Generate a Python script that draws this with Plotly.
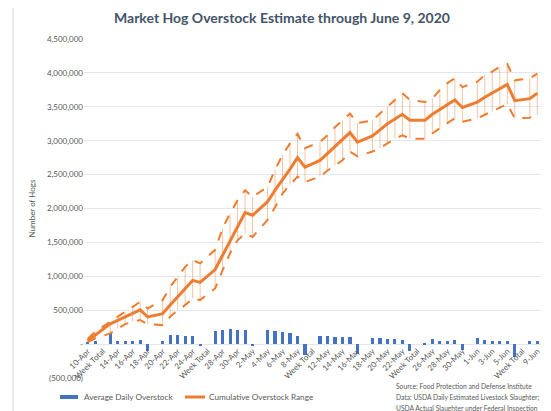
import plotly.graph_objects as go

# ---- data ----
categories = [
    "10-Apr", "11-Apr", "Week Total", "13-Apr", "14-Apr", "15-Apr", "16-Apr", "17-Apr", "18-Apr",
    "Week Total", "20-Apr", "21-Apr", "22-Apr", "23-Apr", "24-Apr", "25-Apr",
    "Week Total", "27-Apr", "28-Apr", "29-Apr", "30-Apr", "1-May", "2-May",
    "Week Total", "4-May", "5-May", "6-May", "7-May", "8-May", "9-May",
    "Week Total", "11-May", "12-May", "13-May", "14-May", "15-May", "16-May",
    "Week Total", "18-May", "19-May", "20-May", "21-May", "22-May", "23-May",
    "Week Total", "25-May", "26-May", "27-May", "28-May", "29-May", "30-May",
    "Week Total", "1-Jun", "2-Jun", "3-Jun", "4-Jun", "5-Jun", "6-Jun",
    "Week Total", "8-Jun", "9-Jun",
]

daily_overstock = [
    30000, 50000, None, 157000, 50000, 40000, 40000, 60000, -108000,
    None, 50000, 133000, 133000, 113000, 113000, -25000,
    None, 187000, 206000, 221000, 206000, 206000, -35000,
    None, 206000, 187000, 172000, 157000, 123000, -162000,
    None, 113000, 113000, 98000, 98000, 98000, -147000,
    None, 84000, 84000, 74000, 74000, 64000, -98000,
    None, 15000, 74000, 50000, 50000, 64000, -88000,
    None, 84000, 64000, 50000, 40000, 40000, -197000,
    None, 40000, 40000,
]

cumulative = [
    50000, 130000, None, 300000, 350000, 400000, 450000, 505000, 400000,
    None, 450000, 575000, 700000, 820000, 940000, 910000,
    None, 1100000, 1310000, 1520000, 1730000, 1940000, 1900000,
    None, 2100000, 2270000, 2420000, 2580000, 2750000, 2610000,
    None, 2710000, 2810000, 2910000, 3010000, 3120000, 2980000,
    None, 3070000, 3160000, 3250000, 3320000, 3390000, 3300000,
    None, 3300000, 3390000, 3460000, 3530000, 3600000, 3490000,
    None, 3570000, 3640000, 3700000, 3760000, 3830000, 3590000,
    None, 3620000, 3700000,
]

range_high = [
    80000, 182000, None, 330000, 400000, 477000, 550000, 624000, 526000,
    None, 650000, 845000, 990000, 1140000, 1240000, 1190000,
    None, 1390000, 1710000, 1930000, 2120000, 2270000, 2170000,
    None, 2320000, 2570000, 2790000, 2960000, 3100000, 2890000,
    None, 2980000, 3080000, 3200000, 3300000, 3400000, 3260000,
    None, 3300000, 3400000, 3500000, 3600000, 3700000, 3600000,
    None, 3570000, 3620000, 3750000, 3850000, 3920000, 3790000,
    None, 3870000, 3970000, 4020000, 4090000, 4130000, 3890000,
    None, 3920000, 3990000,
]

range_low = [
    30000, 84000, None, 157000, 231000, 295000, 329000, 354000, 295000,
    None, 280000, 403000, 500000, 575000, 674000, 649000,
    None, 821000, 1090000, 1340000, 1530000, 1630000, 1580000,
    None, 1830000, 2020000, 2220000, 2350000, 2470000, 2390000,
    None, 2470000, 2560000, 2640000, 2710000, 2840000, 2770000,
    None, 2840000, 2890000, 2960000, 3030000, 3080000, 3030000,
    None, 3030000, 3110000, 3180000, 3260000, 3330000, 3280000,
    None, 3330000, 3380000, 3430000, 3480000, 3540000, 3330000,
    None, 3340000, 3380000,
]

y_tick_vals = [-500000, 0, 500000, 1000000, 1500000, 2000000, 2500000, 3000000, 3500000, 4000000, 4500000]
y_tick_text = ["(500,000)", "-", "500,000", "1,000,000", "1,500,000", "2,000,000", "2,500,000",
               "3,000,000", "3,500,000", "4,000,000", "4,500,000"]

title_text = "Market Hog Overstock Estimate through June 9, 2020"
legend_labels = ["Average Daily Overstock", "Cumulative Overstock Range"]
source_lines = [
    "Source: Food Protection and Defense Institute",
    "Data: USDA Daily Estimated Livestock Slaughter;",
    "USDA Actual Slaughter under Federal Inspection",
]

# ---- figure ----
idx = list(range(len(categories)))
ORANGE = "#ED7D31"
BLUE = "#4472C4"
FONT = "Lato"
GRAY = "#595959"

# page body has an 8px margin; lay out in screen pixels and compensate
OFF = 8
W, H = 551 - OFF, 411 - OFF
PL, PR, PT, PB = 84, 541, 39, 378          # plot area in screen pixels
L, R, T, B = PL - OFF, W - (PR - OFF), PT - OFF, H - (PB - OFF)
pw, ph = W - L - R, H - T - B


def px_x(p):
    return (p - OFF - L) / pw


def px_y(p):
    return (H - B - (p - OFF)) / ph


fig = go.Figure()

hl_x, hl_y = [], []
for i, lo, hi in zip(idx, range_low, range_high):
    if lo is None or hi is None:
        continue
    hl_x += [i, i, None]
    hl_y += [lo, hi, None]

fig.add_trace(go.Bar(
    x=idx, y=daily_overstock, name=legend_labels[0],
    marker=dict(color=BLUE, line=dict(width=0)), width=0.42,
))
fig.add_trace(go.Scatter(
    x=hl_x, y=hl_y, mode="lines", hoverinfo="skip",
    line=dict(color="rgba(237,125,49,0.45)", width=1),
))
fig.add_trace(go.Scatter(
    x=idx, y=range_high, mode="lines", connectgaps=True,
    line=dict(color=ORANGE, width=2, dash="dash"),
))
fig.add_trace(go.Scatter(
    x=idx, y=range_low, mode="lines", connectgaps=True,
    line=dict(color=ORANGE, width=2, dash="dash"),
))
fig.add_trace(go.Scatter(
    x=idx, y=cumulative, mode="lines", name=legend_labels[1], connectgaps=True,
    line=dict(color=ORANGE, width=3),
))

tick_idx = idx[::2]
tick_txt = [categories[i] for i in tick_idx]

annotations = [
    dict(text=legend_labels[0], xref="paper", yref="paper", x=px_x(82), y=px_y(397),
         xanchor="left", yanchor="middle", showarrow=False, font=dict(size=8.2, color=GRAY)),
    dict(text=legend_labels[1], xref="paper", yref="paper", x=px_x(207), y=px_y(397),
         xanchor="left", yanchor="middle", showarrow=False, font=dict(size=8.2, color=GRAY)),
]
for k, line in enumerate(source_lines):
    annotations.append(dict(
        text=line, xref="paper", yref="paper", x=px_x(394), y=px_y(386 + 11 * k),
        xanchor="left", yanchor="middle", showarrow=False,
        font=dict(size=6.7, color=GRAY)))

shapes = [
    dict(type="line", xref="paper", yref="paper", x0=px_x(13), x1=px_x(13),
         y0=px_y(411), y1=px_y(OFF), line=dict(color="#D9D9D9", width=1), layer="below"),
    dict(type="rect", xref="paper", yref="paper", x0=px_x(60), x1=px_x(78),
         y0=px_y(399), y1=px_y(395), line=dict(width=0), fillcolor=BLUE),
    dict(type="line", xref="paper", yref="paper", x0=px_x(185), x1=px_x(205),
         y0=px_y(397), y1=px_y(397), line=dict(color=ORANGE, width=3)),
]

fig.update_layout(
    width=W, height=H,
    margin=dict(l=L, r=R, t=T, b=B, autoexpand=False),
    paper_bgcolor="white", plot_bgcolor="white",
    font=dict(family=FONT, color=GRAY, size=8),
    title=dict(text="<b>" + title_text + "</b>", x=(282 - OFF) / W, xanchor="center",
               y=1 - (18 - OFF) / H, yanchor="middle",
               font=dict(family=FONT, size=14, color="#44546A")),
    bargap=0,
    showlegend=False,
    xaxis=dict(
        range=[-0.5, len(categories) - 0.5],
        tickmode="array", tickvals=tick_idx, ticktext=tick_txt,
        tickangle=-45, tickfont=dict(size=8, color=GRAY),
        showgrid=False, zeroline=False, showline=False, ticks="",
        anchor="free", position=(0 - (-500000)) / 5000000,
        automargin=False,
    ),
    yaxis=dict(
        range=[-500000, 4500000],
        tickmode="array", tickvals=y_tick_vals, ticktext=y_tick_text,
        tickfont=dict(size=8, color=GRAY),
        showgrid=True, gridcolor="#E3E6EC", gridwidth=1,
        zeroline=False, showline=False, ticks="",
        title=dict(text="Number of Hogs", font=dict(size=8, color=GRAY), standoff=10),
        automargin=False,
    ),
    shapes=shapes,
    annotations=annotations,
)

fig.write_html("out.html")
